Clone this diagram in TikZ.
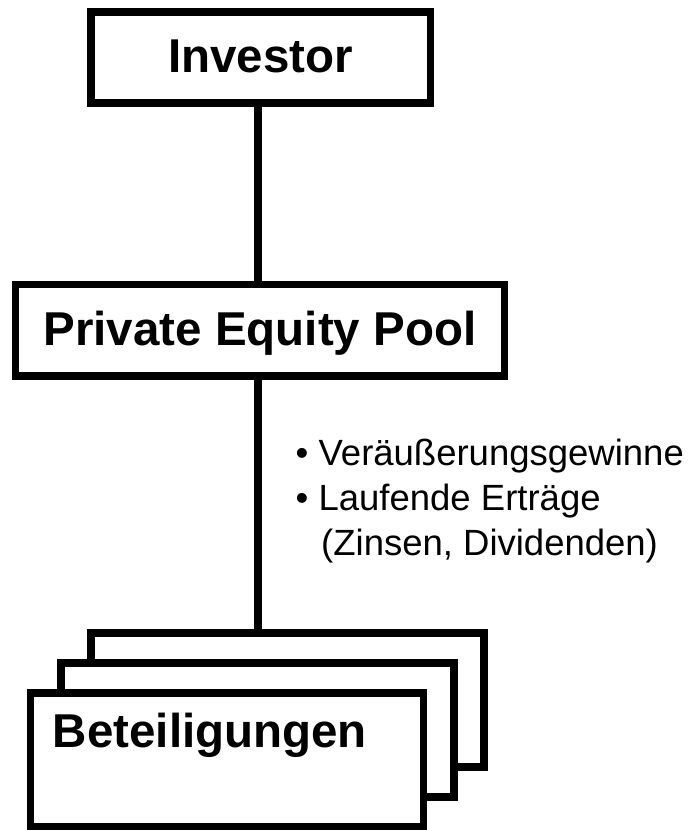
\documentclass[tikz,border=0pt]{standalone}
\usepackage{fontspec}
\setmainfont{Liberation Sans}
\usetikzlibrary{calc}
\begin{document}
\begin{tikzpicture}[x=1pt, y=-1pt,
  frame/.style={draw=black, line width=7.5pt, fill=white, inner sep=0pt},
  boxlabel/.style={font=\fontsize{47.5}{57}\selectfont\bfseries, text height=34pt, text depth=4pt},
  stackbox/.style={frame, minimum width=393pt, minimum height=134pt},
  link/.style={draw=black, line width=7.5pt},
  note/.style={font=\fontsize{36.5}{45}\selectfont, anchor=base west, inner sep=0pt}]
\useasboundingbox (0,0) rectangle (698,830);

% top: investor
\node[frame, boxlabel, minimum width=339.5pt, minimum height=91pt] (inv) at (260.75,57.5) {Investor};
% middle: the pool
\node[frame, boxlabel, minimum width=489pt, minimum height=91.5pt] (pool) at (260,330) {Private Equity Pool};

% stack of holdings, back to front
\node[stackbox] (back) at (287.5,700) {};
\node[stackbox] (mid) at (257.5,730) {};
\node[stackbox] (front) at (227,760) {};
\node[font=\fontsize{47.5}{56}\selectfont\bfseries, anchor=base west, inner sep=0pt] (bet)
  at ($(front.north west)+(26,58)$) {Beteiligungen};

% connectors
\draw[link] ([xshift=-2.75pt]inv.south) -- ([xshift=-2.75pt]inv.south |- pool.north);
\draw[link] ([xshift=-2pt]pool.south) -- ([xshift=-2pt]pool.south |- back.north);

% returns flowing up from the holdings
\node[note] (r1) at (295.5,465) {\textbullet\ Veräußerungsgewinne};
\node[note] (r2) at (295.5,510) {\textbullet\ Laufende Erträge};
\node[note] (r3) at (321,555) {(Zinsen, Dividenden)};
\end{tikzpicture}
\end{document}
